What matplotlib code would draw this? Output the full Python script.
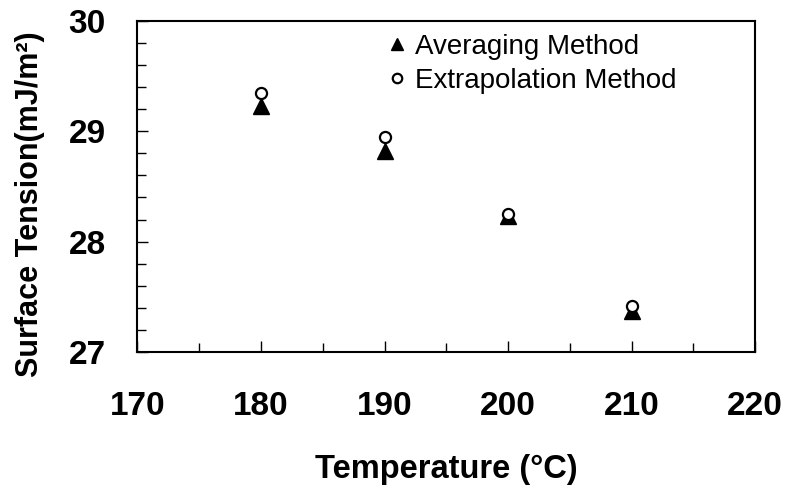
import matplotlib
matplotlib.use('Agg')
import matplotlib.pyplot as plt
from matplotlib.ticker import MultipleLocator

plt.rcParams['font.family'] = ['Liberation Sans', 'DejaVu Sans']

# data
temps = [180, 190, 200, 210]
averaging = [29.23, 28.82, 28.23, 27.37]
extrapolation = [29.35, 28.95, 28.25, 27.42]

fig = plt.figure(figsize=(7.9, 4.9), dpi=100)
ax = fig.add_axes([0.174, 0.282, 0.782, 0.675])

ax.plot(temps, averaging, linestyle='none', marker='^', markersize=11,
        color='black', label='Averaging Method')
ax.plot(temps, extrapolation, linestyle='none', marker='o', markersize=8,
        markerfacecolor='white', markeredgecolor='black', markeredgewidth=1.6,
        label='Extrapolation Method')

ax.set_xlim(170, 220)
ax.set_ylim(27, 30)
ax.xaxis.set_major_locator(MultipleLocator(10))
ax.xaxis.set_minor_locator(MultipleLocator(5))
ax.yaxis.set_major_locator(MultipleLocator(1))
ax.yaxis.set_minor_locator(MultipleLocator(0.2))

ax.tick_params(which='both', direction='in', width=1, top=False, right=False)
ax.tick_params(which='major', length=8)
ax.tick_params(which='minor', length=6.5)
ax.tick_params(axis='x', which='major', pad=28)
ax.tick_params(axis='y', which='major', pad=23)

for lab in ax.get_xticklabels() + ax.get_yticklabels():
    lab.set_fontsize(24)
    lab.set_fontweight('bold')

for sp in ax.spines.values():
    sp.set_linewidth(1.5)

ax.set_xlabel('Temperature (°C)', fontsize=23.5, fontweight='bold')
ax.set_ylabel('Surface Tension(mJ/m²)', fontsize=22, fontweight='bold')
ax.xaxis.set_label_coords(0.5, -0.356)
ax.yaxis.set_label_coords(-0.174, 0.447)
ax.xaxis.label.set_va('center')
ax.yaxis.label.set_va('center')

leg = ax.legend(loc='upper left', bbox_to_anchor=(0.386, 1.0), frameon=False,
                fontsize=20, handlelength=0.6, handletextpad=0.35,
                labelspacing=0.29, borderaxespad=0.05, markerscale=0.85)

fig.savefig('out.png', dpi=100)
